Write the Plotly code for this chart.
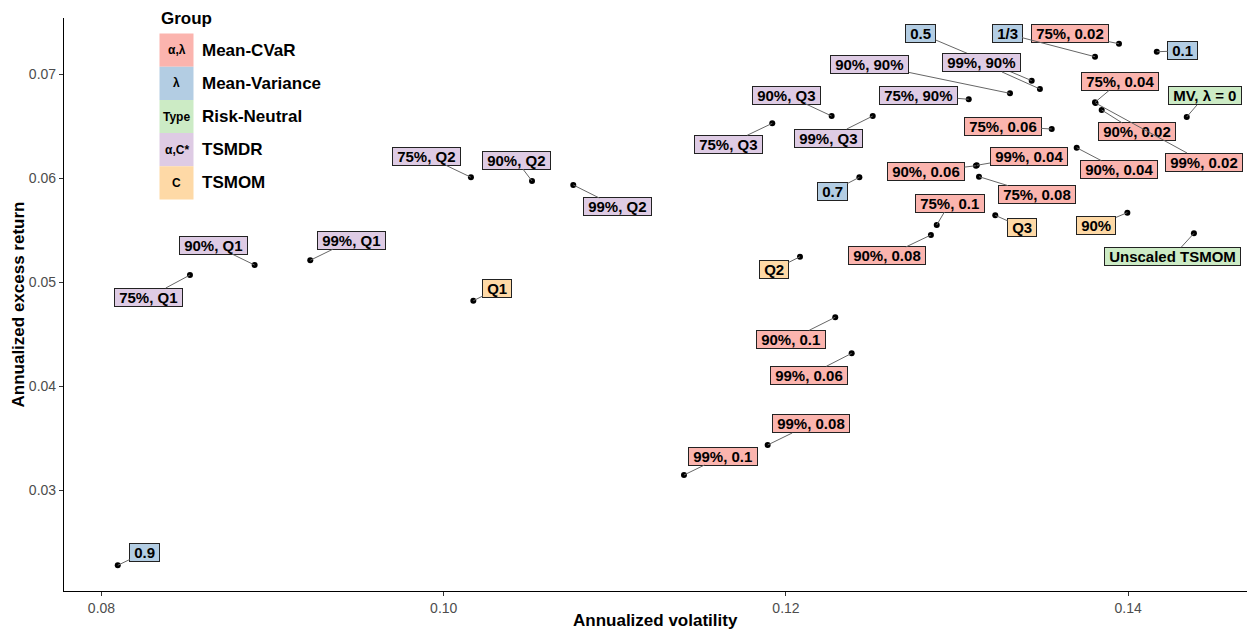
import plotly.graph_objects as go

# ---- groups / legend ----
groups = ["Mean-CVaR", "Mean-Variance", "Risk-Neutral", "TSMDR", "TSMOM"]
key_text = ["α,λ", "λ", "Type", "α,C*", "C"]
fills = ["#FBB4AE", "#B3CDE3", "#CCEBC5", "#DECBE4", "#FED9A6"]

# ---- Mean-CVaR (alpha, lambda) ----
cvar_labels = ["75%, 0.02", "75%, 0.04", "75%, 0.06", "75%, 0.08", "75%, 0.1",
               "90%, 0.02", "90%, 0.04", "90%, 0.06", "90%, 0.08", "90%, 0.1",
               "99%, 0.02", "99%, 0.04", "99%, 0.06", "99%, 0.08", "99%, 0.1"]
cvar_vol = [0.13946, 0.13806, 0.13553, 0.13128, 0.12881,
            0.13845, 0.13699, 0.13110, 0.12847, 0.12288,
            0.13809, 0.13115, 0.12384, 0.11893, 0.11404]
cvar_ret = [0.07291, 0.06728, 0.06471, 0.06013, 0.05548,
            0.06654, 0.06291, 0.06118, 0.05452, 0.04661,
            0.06721, 0.06122, 0.04314, 0.03433, 0.03144]

# ---- Mean-Variance (lambda) ----
mv_labels = ["0.1", "1/3", "0.5", "0.7", "0.9"]
mv_vol = [0.14167, 0.13806, 0.13436, 0.12429, 0.08095]
mv_ret = [0.07214, 0.07166, 0.06936, 0.06007, 0.02276]

# ---- Risk-Neutral ----
rn_labels = ["MV, λ = 0", "Unscaled TSMOM"]
rn_vol = [0.14342, 0.14384]
rn_ret = [0.06587, 0.05468]

# ---- TSMDR (alpha, C*) ----
dr_labels = ["75%, 90%", "90%, 90%", "99%, 90%",
             "75%, Q3", "90%, Q3", "99%, Q3",
             "75%, Q2", "90%, Q2", "99%, Q2",
             "75%, Q1", "90%, Q1", "99%, Q1"]
dr_vol = [0.13068, 0.13309, 0.13484,
          0.11920, 0.12267, 0.12507,
          0.10159, 0.10516, 0.10757,
          0.08517, 0.08895, 0.09220]
dr_ret = [0.06757, 0.06814, 0.06856,
          0.06526, 0.06596, 0.06596,
          0.06007, 0.05971, 0.05933,
          0.05067, 0.05163, 0.05209]

# ---- TSMOM (C) ----
mom_labels = ["Q1", "Q2", "Q3", "90%"]
mom_vol = [0.10173, 0.12082, 0.13223, 0.13995]
mom_ret = [0.04820, 0.05243, 0.05641, 0.05667]

x_ticks = [0.08, 0.10, 0.12, 0.14]
y_ticks = [0.03, 0.04, 0.05, 0.06, 0.07]

# repelled label offsets in pixels (dx, dy) from each point
cvar_off = [(-49, -10), (25, -21), (-49, -3), (58, 18), (13, -22),
            (35, 22), (42, 22), (-50, 6), (-44, 21), (-44, 22),
            (108, 59), (52, -9), (-43, 22), (43, -21), (39, -19)]
mv_off = [(26, -1), (-88, -23), (-111, -47), (-27, 14), (27, -13)]
rn_off = [(18, -21), (-21, 23)]
dr_off = [(-50, -4), (-140, -29), (-58, -26),
          (-44, 21), (-45, -21), (-44, 22),
          (-44, -21), (-16, -21), (44, 22),
          (-41, 22), (-41, -20), (41, -20)]
mom_off = [(24, -12), (-26, 13), (27, 12), (-31, 13)]

series = [
    (cvar_labels, cvar_vol, cvar_ret, cvar_off),
    (mv_labels, mv_vol, mv_ret, mv_off),
    (rn_labels, rn_vol, rn_ret, rn_off),
    (dr_labels, dr_vol, dr_ret, dr_off),
    (mom_labels, mom_vol, mom_ret, mom_off),
]

FONT = "Liberation Sans, Arial, Helvetica, sans-serif"
NB = "\u00a0"

fig = go.Figure()
annotations = []

for g, (labels, xs, ys, offs) in enumerate(series):
    fig.add_trace(go.Scatter(
        x=xs, y=ys, mode="markers", name=groups[g], showlegend=False,
        marker=dict(color="black", size=6),
        hoverinfo="text", text=labels,
    ))
    for lab, xv, yv, (dx, dy) in zip(labels, xs, ys, offs):
        annotations.append(dict(
            x=xv, y=yv, xref="x", yref="y",
            ax=dx, ay=dy, axref="pixel", ayref="pixel",
            text=NB + lab + NB,
            showarrow=True, arrowhead=0, arrowwidth=1, arrowcolor="#666666",
            standoff=0, startstandoff=0,
            bgcolor=fills[g], bordercolor="#222222", borderwidth=1, borderpad=0,
            font=dict(family=FONT, size=15, color="black", weight="bold"),
        ))

# ---- legend drawn inside the panel ----
W, H = 1249, 634
ml, mr, mt, mb = 64, 2, 18, 43
pw, ph = W - ml - mr, H - mt - mb

def px_x(p):
    return (p - ml) / pw

def px_y(p):
    return 1 - (p - mt) / ph

shapes = []
annotations.append(dict(
    x=px_x(159), y=px_y(18), xref="paper", yref="paper",
    xanchor="left", yanchor="middle", showarrow=False,
    text="Group", font=dict(family=FONT, size=17, color="black", weight="bold"),
))
key_top = 33.5
key_h = 33.2
for i, name in enumerate(groups):
    y0 = key_top + i * key_h
    y1 = y0 + key_h
    shapes.append(dict(
        type="rect", xref="paper", yref="paper",
        x0=px_x(159.5), x1=px_x(193.5), y0=px_y(y1), y1=px_y(y0),
        fillcolor=fills[i], line=dict(width=0), layer="above",
    ))
    yc = px_y((y0 + y1) / 2)
    annotations.append(dict(
        x=px_x(176.5), y=yc, xref="paper", yref="paper",
        xanchor="center", yanchor="middle", showarrow=False,
        text=key_text[i], font=dict(family=FONT, size=12, color="black", weight="bold"),
    ))
    annotations.append(dict(
        x=px_x(200), y=yc, xref="paper", yref="paper",
        xanchor="left", yanchor="middle", showarrow=False,
        text=name, font=dict(family=FONT, size=17, color="black", weight="bold"),
    ))

# ---- axis titles ----
annotations.append(dict(
    x=0.5, y=0, xref="paper", yref="paper", yshift=-29,
    xanchor="center", yanchor="middle", showarrow=False,
    text="Annualized volatility",
    font=dict(family=FONT, size=17, color="black", weight="bold"),
))
annotations.append(dict(
    x=0, y=0.5, xref="paper", yref="paper", xshift=-46,
    xanchor="center", yanchor="middle", showarrow=False, textangle=-90,
    text="Annualized excess return",
    font=dict(family=FONT, size=17, color="black", weight="bold"),
))

fig.update_layout(
    width=W, height=H,
    margin=dict(l=ml, r=mr, t=mt, b=mb),
    paper_bgcolor="white", plot_bgcolor="white",
    font=dict(family=FONT),
    annotations=annotations,
    shapes=shapes,
    xaxis=dict(
        range=[0.077809, 0.146942], tickvals=x_ticks, tickformat=".2f",
        showgrid=False, zeroline=False,
        showline=True, linecolor="black", linewidth=1.2,
        ticks="outside", ticklen=4, tickcolor="#333333", tickwidth=1,
        tickfont=dict(family=FONT, size=14, color="#4D4D4D"),
    ),
    yaxis=dict(
        range=[0.020288, 0.075385], tickvals=y_ticks, tickformat=".2f",
        showgrid=False, zeroline=False,
        showline=True, linecolor="black", linewidth=1.2,
        ticks="outside", ticklen=4, tickcolor="#333333", tickwidth=1,
        tickfont=dict(family=FONT, size=14, color="#4D4D4D"),
    ),
)

fig.write_html("out.html")
